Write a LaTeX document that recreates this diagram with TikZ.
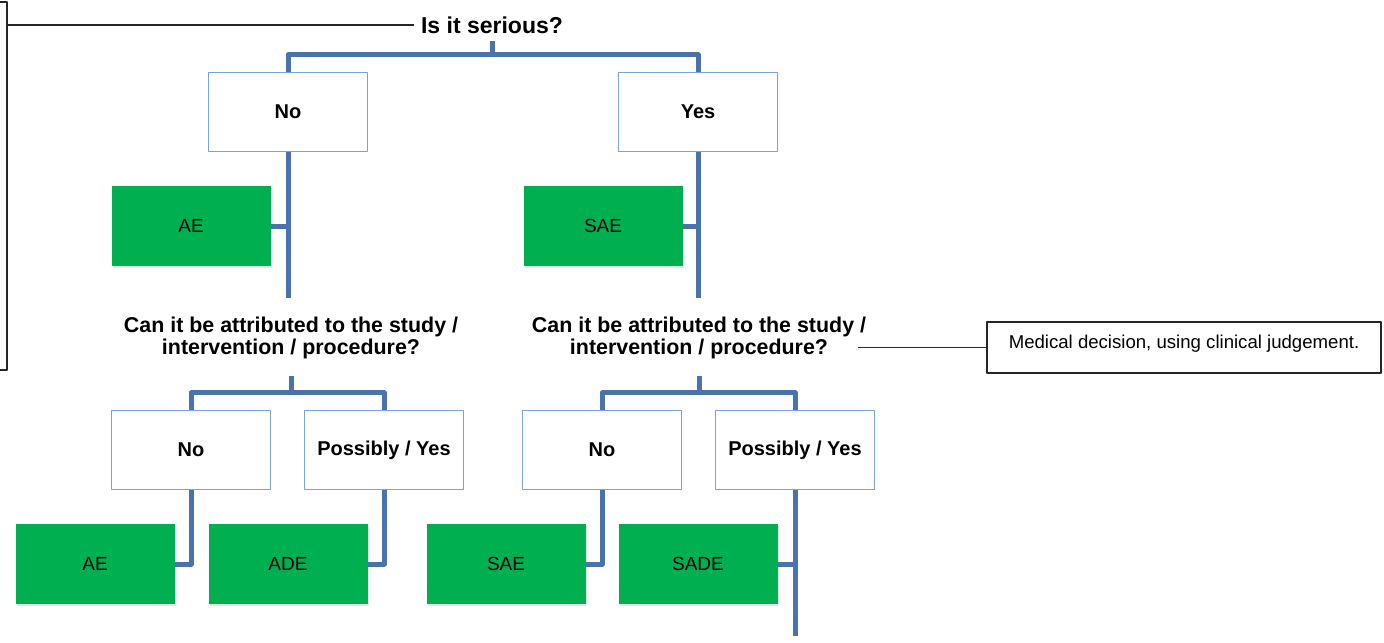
\documentclass[tikz,border=0pt]{standalone}
\usepackage{fontspec}
\setmainfont{Liberation Sans}
\usetikzlibrary{shadows}
\definecolor{linkblue}{HTML}{4A72AC}
\definecolor{edgeblue}{HTML}{7BA3DD}
\definecolor{eventgreen}{HTML}{00B050}
\begin{document}
\begin{tikzpicture}[x=0.5pt,y=-0.5pt, line join=round,
	answer/.style={draw=edgeblue, line width=0.7pt, fill=white, minimum width=79.5pt, minimum height=39.5pt, font=\fontsize{10}{12}\selectfont\bfseries},
	event/.style={fill=eventgreen, minimum width=79.5pt, minimum height=40pt, font=\fontsize{9.5}{11}\selectfont, drop shadow={opacity=0.2, shadow xshift=0.8pt, shadow yshift=-0.8pt}},
	question/.style={align=center, font=\fontsize{10.7}{11}\selectfont\bfseries},
	link/.style={draw=linkblue, line width=2.5pt},
	note/.style={draw=black!85, line width=0.6pt}]
	\useasboundingbox (0,0) rectangle (1384,642);
	% questions
	\node[font=\fontsize{11.5}{13}\selectfont\bfseries] (serious) at (492,25) {Is it serious?};
	\node[question] (attrL) at (291,338) {Can it be attributed to the study /\\intervention / procedure?};
	\node[question] (attrR) at (699,338) {Can it be attributed to the study /\\intervention / procedure?};
	% answers
	\foreach \n/\x/\y/\t in {no/288/112/No, yes/698/112/Yes, noL/191/450/No, yesL/384/450/{Possibly / Yes}, noR/602/450/No, yesR/795/450/{Possibly / Yes}}
		\node[answer] (\n) at (\x,\y) {\t};
	% outcomes
	\foreach \n/\x/\y/\t in {ae/191/226/AE, sae/603/226/SAE, aeL/95/564/AE, ade/288/564/ADE, saeL/506/564/SAE, sade/698/564/SADE}
		\node[event] (\n) at (\x,\y) {\t};
	% notes
	\node[note, minimum width=197pt, inner ysep=0pt, text height=13pt, text depth=12.5pt, font=\fontsize{9.3}{11}\selectfont] (clin) at (1184,347.5) {Medical decision, using clinical judgement.};
	\path (7,2) coordinate (sideNE) (7,370) coordinate (sideSE);
	\draw[note] ([xshift=-10pt]sideNE) -- (sideNE) -- (sideSE) -- ([xshift=-10pt]sideSE);
	\draw[note] (serious.west) -- (serious.west -| sideNE);
	\draw[note] (clin.west) -- ([xshift=-7.5pt]attrR.east |- clin.west);
	% tree
	\path (no.north) ++(0,-17) coordinate (barTop);
	\draw[link] (barTop -| serious.south) -- (serious.south);
	\draw[link] (no.north) -- (barTop) -| (yes.north);
	\foreach \s in {no, yes}
		\draw[link] (\s.south) -- ++(0,146);
	\foreach \g/\s in {ae/no, sae/yes}
		\draw[link] (\g.east) -- (\g.east -| \s.south);
	\foreach \a/\b/\q in {noL/yesL/attrL, noR/yesR/attrR}
	{
		\path (\a.north) ++(0,-17) coordinate (bar\q);
		\draw[link] (\a.north) -- (bar\q) -| (\b.north);
		\draw[link] (bar\q -| \q.south) -- ++(0,-17);
	}
	\foreach \s/\g in {noL/aeL, yesL/ade, noR/saeL}
		\draw[link] (\s.south) |- (\g.east);
	\draw[link] (yesR.south) -- ++(0,146);
	\draw[link] (sade.east) -- (sade.east -| yesR.south);
\end{tikzpicture}
\end{document}
